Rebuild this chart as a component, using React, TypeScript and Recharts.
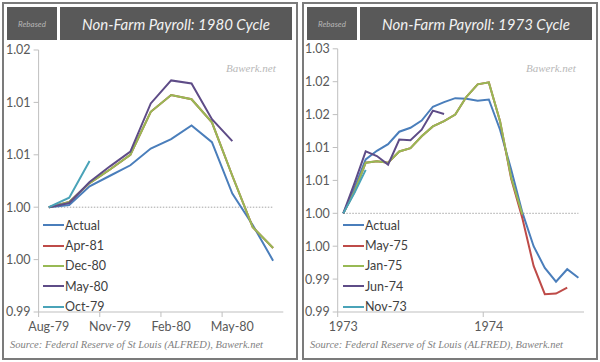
import React from 'react';
import { LineChart, Line, XAxis, YAxis, ReferenceLine } from 'recharts';

// ---------- 1980 cycle ----------
const months1980 = ['Aug-79', 'Sep-79', 'Oct-79', 'Nov-79', 'Dec-79', 'Jan-80', 'Feb-80', 'Mar-80', 'Apr-80', 'May-80', 'Jun-80', 'Jul-80'];
const actual1980 = [1.0, 1.0002, 1.002, 1.003, 1.004, 1.0056, 1.0065, 1.0078, 1.0062, 1.0013, 0.9983, 0.9949];
const apr81 = [1.0, 1.0005, 1.0023, 1.0036, 1.005, 1.0091, 1.0107, 1.0103, 1.0081, 1.003, 0.9981, 0.9961];
const dec80 = [1.0, 1.0005, 1.0023, 1.0036, 1.005, 1.0091, 1.0107, 1.0103, 1.0081, 1.003, 0.9981, 0.9961];
const may80 = [1.0, 1.0004, 1.0024, 1.0039, 1.0053, 1.0099, 1.0121, 1.0118, 1.0084, 1.0063];
const oct79 = [1.0, 1.0009, 1.0044];
const yTicks1980 = [0.99, 0.995, 1.0, 1.005, 1.01, 1.015];
const names1980 = ['Actual', 'Apr-81', 'Dec-80', 'May-80', 'Oct-79'];

// ---------- 1973 cycle ----------
const months1973 = ['Jan-73', 'Feb-73', 'Mar-73', 'Apr-73', 'May-73', 'Jun-73', 'Jul-73', 'Aug-73', 'Sep-73', 'Oct-73', 'Nov-73', 'Dec-73',
  'Jan-74', 'Feb-74', 'Mar-74', 'Apr-74', 'May-74', 'Jun-74', 'Jul-74', 'Aug-74', 'Sep-74', 'Oct-74'];
const actual1973 = [1.0, 1.0039, 1.0082, 1.0095, 1.0105, 1.0124, 1.013, 1.0141, 1.0162, 1.0169, 1.0175, 1.0174,
  1.0171, 1.0173, 1.0127, 1.0066, 1.0001, 0.995, 0.9917, 0.9896, 0.9915, 0.9902];
const may75 = [1.0, 1.0033, 1.0077, 1.0079, 1.0077, 1.0094, 1.0099, 1.0117, 1.0132, 1.014, 1.015, 1.0177,
  1.0196, 1.0199, 1.014, 1.0052, 0.9992, 0.992, 0.9877, 0.9878, 0.9887];
const jan75 = [1.0, 1.0033, 1.0077, 1.0079, 1.0077, 1.0094, 1.0099, 1.0117, 1.0132, 1.014, 1.015, 1.0177,
  1.0196, 1.0199, 1.014, 1.0054, 0.9998];
const jun74 = [1.0, 1.0046, 1.0094, 1.0087, 1.0074, 1.0112, 1.0111, 1.0127, 1.0156, 1.0151];
const nov73 = [1.0, 1.0031, 1.0066];
const yTicks1973 = [0.985, 0.99, 0.995, 1.0, 1.005, 1.01, 1.015, 1.02, 1.025];
const names1973 = ['Actual', 'May-75', 'Jan-75', 'Jun-74', 'Nov-73'];
const xLabels1973: Record<string, string> = { 'Jan-73': '1973', 'Feb-74': '1974' };

const colors = ['#4A7EBB', '#BE4B48', '#98B954', '#5E4C87', '#4AA3B8'];
const FONT = 'Lato, "Liberation Sans", sans-serif';
const SERIF = '"Liberation Serif", "DejaVu Serif", serif';

const fmtY = (v: number) => (Math.round(v * 100 + 1e-6) / 100).toFixed(2);

function buildRows(months: string[], series: (number | undefined)[][]) {
  return months.map((m, i) => {
    const row: any = { month: m };
    series.forEach((s, k) => {
      row['s' + k] = s[i] === undefined ? null : s[i];
    });
    return row;
  });
}

const makeTick = (half: number, label: (v: string) => string) => (props: any) => {
  const { x, y, payload } = props;
  return (
    <g>
      <line x1={x - half} x2={x - half} y1={y - 8} y2={y - 3} stroke="#bfbfbf" strokeWidth={1} />
      <text x={x} y={y} dy="0.85em" textAnchor="middle" fill="#595959" fontSize={12.5} fontFamily={FONT}>
        {label(payload.value)}
      </text>
    </g>
  );
};

function Panel(props: {
  left: number;
  title: string;
  months: string[];
  series: (number | undefined)[][];
  names: string[];
  yTicks: number[];
  domain: [number, number];
  top: number;
  yAxisWidth: number;
  rightMargin: number;
  pad: number;
  interval: number;
  label: (v: string) => string;
}) {
  const { left, title, months, series, names, yTicks, domain, top, yAxisWidth, rightMargin, pad, interval, label } = props;
  const rows = buildRows(months, series);
  return (
    <div style={{ position: 'absolute', left, top: 0, width: 300, height: 362 }}>
      <div style={{ position: 'absolute', left: 2, top: 2, width: 292, height: 354, border: '2px solid #7b7b7b' }} />
      <div style={{ position: 'absolute', left: 7, top: 7, width: 50, height: 33, background: '#595959', color: '#b5b5b5', fontFamily: FONT, fontStyle: 'italic', fontSize: 8, display: 'flex', alignItems: 'center', justifyContent: 'center' }}>Rebased</div>
      <div style={{ position: 'absolute', left: 60, top: 7, width: 232, height: 33, background: '#595959', color: '#f2f2f2', fontFamily: FONT, fontStyle: 'italic', fontSize: 15, display: 'flex', alignItems: 'center', justifyContent: 'center' }}>{title}</div>
      <div style={{ position: 'absolute', left: 226, top: 62, fontFamily: SERIF, fontStyle: 'italic', fontSize: 11, color: '#b8b8b8' }}>Bawerk.net</div>
      <div style={{ position: 'absolute', left: 10, top: 339, fontFamily: SERIF, fontStyle: 'italic', fontSize: 10.5, color: '#7f7f7f', whiteSpace: 'nowrap' }}>Source: Federal Reserve of St Louis (ALFRED), Bawerk.net</div>
      <div style={{ position: 'absolute', left: 0, top: 0 }}>
        <LineChart width={300} height={362} data={rows} margin={{ top, right: rightMargin, bottom: 20, left: 0 }}>
          <XAxis
            dataKey="month"
            height={30}
            interval={interval}
            padding={{ left: pad, right: pad }}
            axisLine={{ stroke: '#bfbfbf' }}
            tickLine={false}
            tickSize={4}
            tickMargin={4}
            tick={makeTick(pad, label)}
          />
          <YAxis
            width={yAxisWidth}
            domain={domain}
            ticks={yTicks}
            type="number"
            allowDataOverflow
            axisLine={{ stroke: '#bfbfbf' }}
            tickLine={{ stroke: '#bfbfbf' }}
            tickSize={5}
            tickMargin={3}
            tickFormatter={fmtY}
            tick={{ fill: '#595959', fontSize: 12.5, fontFamily: FONT }}
          />
          <ReferenceLine
            segment={[{ x: months[0], y: 1 }, { x: months[months.length - 1], y: 1 }]}
            stroke="#a6a6a6"
            strokeDasharray="1.5 1.5"
          />
          {series.map((_, k) => (
            <Line
              key={k}
              type="linear"
              dataKey={'s' + k}
              name={names[k]}
              stroke={colors[k]}
              strokeWidth={2}
              dot={false}
              isAnimationActive={false}
            />
          ))}
        </LineChart>
      </div>
      <div style={{ position: 'absolute', left: 43, top: 215 }}>
        {names.map((n, k) => (
          <div key={n} style={{ display: 'flex', alignItems: 'center', height: 20.4 }}>
            <div style={{ width: 21, height: 2, background: colors[k] }} />
            <span style={{ fontFamily: FONT, fontSize: 12.5, color: '#404040', marginLeft: 1 }}>{n}</span>
          </div>
        ))}
      </div>
    </div>
  );
}

export default function App() {
  return (
    <div style={{ position: 'absolute', left: 0, top: 0, width: 600, height: 362, background: '#ffffff', overflow: 'hidden' }}>
      <Panel
        left={0}
        title="Non-Farm Payroll: 1980 Cycle"
        months={months1980}
        series={[actual1980, apr81, dec80, may80, oct79]}
        names={names1980}
        yTicks={yTicks1980}
        domain={[0.99, 1.015]}
        top={50}
        yAxisWidth={38.6}
        rightMargin={16.7}
        pad={10.2}
        interval={2}
        label={(v) => v}
      />
      <Panel
        left={300}
        title="Non-Farm Payroll: 1973 Cycle"
        months={months1973}
        series={[actual1973, may75, jan75, jun74, nov73]}
        names={names1973}
        yTicks={yTicks1973}
        domain={[0.985, 1.025]}
        top={48.8}
        yAxisWidth={37.7}
        rightMargin={16}
        pad={5.6}
        interval={12}
        label={(v) => xLabels1973[v] || ''}
      />
    </div>
  );
}
